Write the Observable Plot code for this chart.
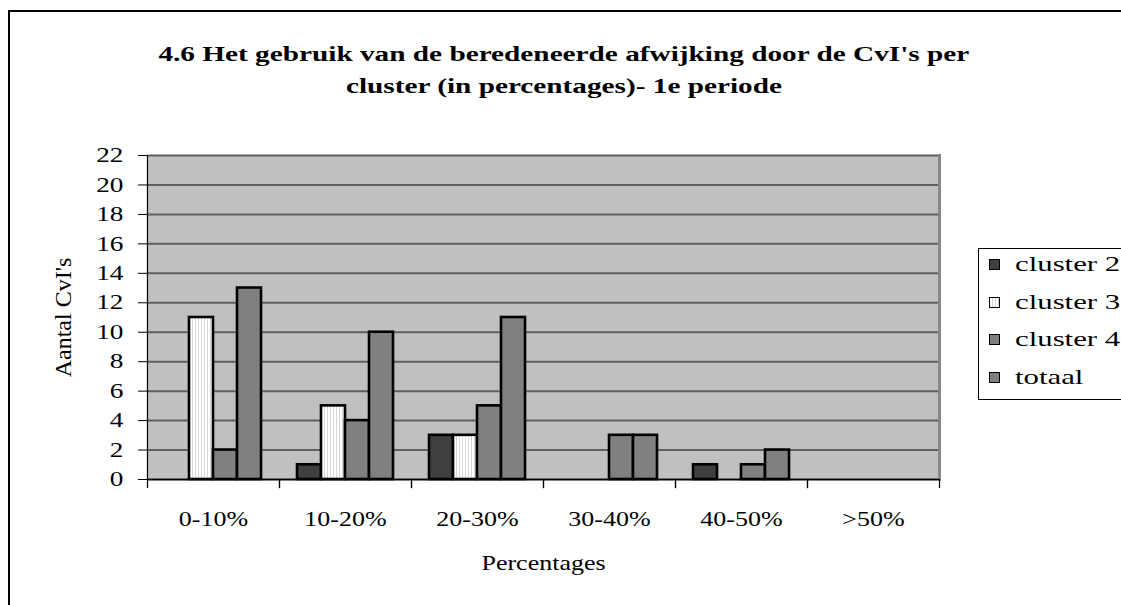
<!DOCTYPE html>
<html><head><meta charset="utf-8">
<script src="https://cdn.jsdelivr.net/npm/d3@7"></script>
<script src="https://cdn.jsdelivr.net/npm/@observablehq/plot@0.6"></script>
<style>
html,body{margin:0;padding:0;background:#fff;overflow:hidden;width:1121px;height:605px;}
#wrap{position:relative;width:1121px;height:605px;font-family:"Liberation Serif","Times New Roman",serif;color:#000;}
#border{position:absolute;left:8px;top:10px;width:1200px;height:700px;border:2px solid #000;box-sizing:border-box;}
#chart{position:absolute;left:0;top:0;}
.tline{position:absolute;left:64px;width:1000px;text-align:center;font-weight:bold;font-size:22px;line-height:26px;white-space:nowrap;}
.tline span{display:inline-block;transform:scaleX(1.33);transform-origin:center;}
#legend{position:absolute;left:978px;top:248px;width:200px;height:152px;border:1px solid #000;background:#fff;box-sizing:border-box;}
.item{position:absolute;left:10px;height:26px;line-height:26px;font-size:22px;white-space:nowrap;}
.sw{position:absolute;left:0;top:8px;width:11px;height:11px;border:1.5px solid #000;box-sizing:border-box;}
.lt{position:absolute;left:26px;top:0;display:inline-block;transform:scaleX(1.4);transform-origin:left center;}
</style></head>
<body><div id="wrap"><div id="border"></div><div id="chart"></div><div id="legend"></div></div>
<script>
const categories = ["0-10%", "10-20%", "20-30%", "30-40%", "40-50%", ">50%"];
const seriesNames = ["cluster 2", "cluster 3", "cluster 4", "totaal"];
const cluster2 = [0, 1, 3, 0, 1, 0];
const cluster3 = [11, 5, 3, 0, 0, 0];
const cluster4 = [2, 4, 5, 3, 1, 0];
const totaal = [13, 10, 11, 3, 2, 0];
const yTicks = [0, 2, 4, 6, 8, 10, 12, 14, 16, 18, 20, 22];
const seriesFills = ["#404040", "url(#stripes)", "#808080", "#808080"];
const legendSwatches = ["#404040", "repeating-linear-gradient(90deg,#fff 0 2px,#d8d8d8 2px 3px)", "#808080", "#808080"];
const titleLines = ["4.6 Het gebruik van de beredeneerde afwijking door de CvI's per", "cluster (in percentages)- 1e periode"];
const xLabel = "Percentages";
const yLabel = "Aantal CvI's";

const seriesValues = [cluster2, cluster3, cluster4, totaal];
const rows = [];
categories.forEach((c, i) => seriesNames.forEach((s, j) => rows.push({category: c, series: s, value: seriesValues[j][i]})));

const plot = Plot.plot({
  width: 1121, height: 605,
  marginLeft: 146, marginRight: 181, marginTop: 155, marginBottom: 126,
  style: {fontFamily: '"Liberation Serif", "Times New Roman", serif', fontSize: "20px", color: "#000", background: "transparent", overflow: "visible"},
  fx: {domain: categories, padding: 0, label: xLabel},
  x: {domain: seriesNames, paddingInner: 0, paddingOuter: 0.7, axis: null},
  y: {domain: [0, 22]},
  color: {domain: seriesNames, range: seriesFills},
  marks: [
    Plot.frame({fill: "#c0c0c0", stroke: null, insetLeft: -0.6, insetRight: -0.6}),
    Plot.gridY(yTicks, {stroke: "#5f5f5f", strokeOpacity: 1, strokeWidth: 2}),
    Plot.barY(rows, {fx: "category", x: "series", y: "value", fill: "series",
      stroke: d => d.value > 0 ? "#000" : "none", strokeWidth: 2.6}),
    Plot.frame({anchor: "right", facetAnchor: "right", stroke: "#888", strokeWidth: 3}),
    Plot.ruleY([0], {stroke: "#000", strokeWidth: 1.5}),
    Plot.frame({anchor: "left", insetTop: 324, insetBottom: -8, stroke: "#000", strokeWidth: 1.2}),
    Plot.frame({anchor: "right", insetTop: 324, insetBottom: -8, stroke: "#000", strokeWidth: 1.2}),
    Plot.frame({anchor: "left", facetAnchor: "left", stroke: "#000", strokeWidth: 1.2}),
    Plot.axisY(yTicks, {tickSize: 9, tickPadding: 15, fontSize: 21, stroke: "#000", label: null}),
    Plot.axisFx({anchor: "bottom", tickSize: 0, tickPadding: 32, fontSize: 20, label: xLabel, labelAnchor: "center", labelOffset: 90}),
    Plot.text([yLabel], {frameAnchor: "left", textAnchor: "middle", dx: -84, rotate: -90, fontSize: 24, facetAnchor: "left"})
  ]
});

const svg = d3.select(plot.tagName.toLowerCase() === "svg" ? plot : plot.querySelector("svg"));
svg.insert("defs", ":first-child").html(
  '<pattern id="stripes" patternUnits="userSpaceOnUse" width="3" height="10">' +
  '<rect width="3" height="10" fill="#ffffff"/><rect x="2" width="1" height="10" fill="#d8d8d8"/></pattern>');

// horizontally widen text glyphs like the reference
const S = 1.3;
svg.selectAll("text").each(function() {
  const t = this;
  const tr = t.getAttribute("transform") || "";
  if (/rotate/.test(tr)) return;
  const xa = t.getAttribute("x");
  let extra = "";
  if (xa && !/em$/.test(xa)) { extra = `translate(${parseFloat(xa)},0)`; t.removeAttribute("x"); }
  t.setAttribute("transform", `${tr} ${extra} scale(${S},1)`);
});
document.getElementById("chart").appendChild(plot);

const wrap = d3.select("#wrap");
titleLines.forEach((line, i) => {
  wrap.append("div").attr("class", "tline").style("top", (41 + i * 32) + "px").append("span").text(line);
});
const legend = d3.select("#legend");
seriesNames.forEach((name, i) => {
  const it = legend.append("div").attr("class", "item").style("top", (2 + i * 37.5) + "px");
  it.append("div").attr("class", "sw").style("background", legendSwatches[i]);
  it.append("span").attr("class", "lt").text(name);
});
</script></body></html>
